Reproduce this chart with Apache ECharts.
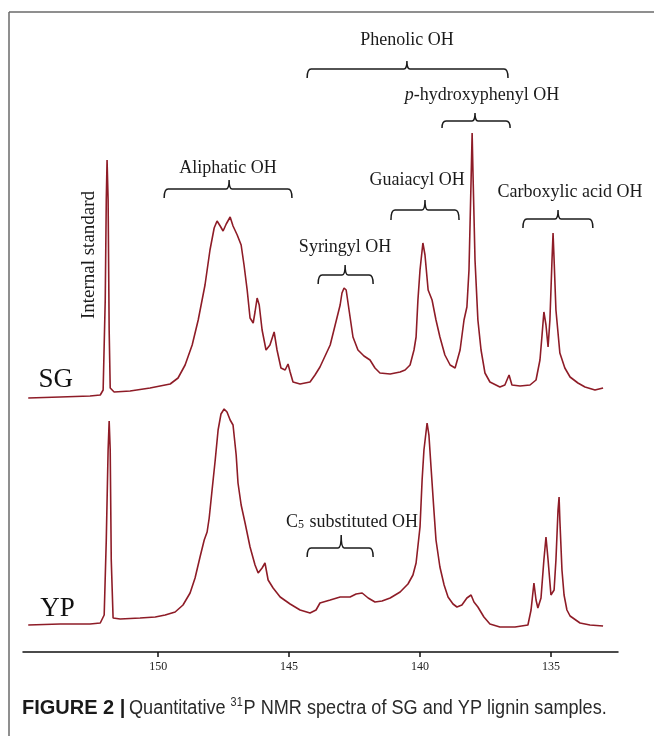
<!DOCTYPE html>
<html><head><meta charset="utf-8">
<script src="https://cdn.jsdelivr.net/npm/echarts@6/dist/echarts.min.js"></script>
<style>html,body{margin:0;padding:0;background:#fff}#c{width:654px;height:736px}</style>
</head><body><div id="c"></div>
<script>
// ---- data: [chemical shift (ppm), relative intensity above baseline] ----
const sgSpectrum = [[154.96,0],[153.74,1],[152.60,2],[152.21,3],[152.10,8],[152.02,98],[151.98,198],[151.95,238],[151.91,198],[151.87,68],[151.83,10],[151.68,6],[151.07,7],[150.31,10],[149.54,14],[149.24,20],[148.97,33],[148.70,53],[148.47,78],[148.21,113],[148.02,148],[147.86,170],[147.75,177],[147.63,172],[147.52,167],[147.40,174],[147.25,181],[147.14,172],[146.98,163],[146.83,153],[146.72,133],[146.60,108],[146.49,80],[146.37,75],[146.30,86],[146.22,100],[146.14,93],[146.03,68],[145.88,48],[145.73,53],[145.57,66],[145.46,48],[145.31,30],[145.15,28],[145.04,34],[144.96,26],[144.85,16],[144.58,14],[144.20,16],[144.01,23],[143.82,31],[143.43,53],[143.24,73],[143.05,93],[142.98,105],[142.90,110],[142.82,108],[142.71,88],[142.56,61],[142.37,48],[142.14,42],[141.91,38],[141.72,30],[141.53,25],[141.14,24],[140.76,26],[140.57,28],[140.38,33],[140.23,48],[140.15,61],[140.08,98],[140.00,128],[139.89,155],[139.81,143],[139.69,108],[139.54,98],[139.39,78],[139.24,61],[139.05,43],[138.85,33],[138.66,30],[138.47,48],[138.32,78],[138.21,91],[138.13,128],[138.05,218],[138.01,265],[137.98,228],[137.90,138],[137.79,78],[137.67,48],[137.52,25],[137.33,16],[136.95,11],[136.76,13],[136.60,23],[136.49,13],[136.18,12],[135.80,13],[135.57,18],[135.42,38],[135.34,63],[135.27,86],[135.19,73],[135.11,51],[135.04,78],[134.96,138],[134.92,165],[134.88,138],[134.81,88],[134.66,45],[134.47,30],[134.27,21],[133.97,15],[133.70,11],[133.32,8],[133.01,10]];
const ypSpectrum = [[154.96,0],[153.74,1],[152.60,1],[152.21,2],[152.06,10],[151.98,85],[151.91,175],[151.87,204],[151.83,175],[151.79,65],[151.72,7],[151.45,6],[150.69,7],[150.11,8],[149.73,10],[149.35,13],[149.05,20],[148.78,32],[148.59,47],[148.40,68],[148.24,85],[148.13,93],[148.05,107],[147.94,135],[147.82,165],[147.71,195],[147.60,211],[147.48,216],[147.37,213],[147.25,205],[147.14,200],[147.02,170],[146.95,142],[146.83,120],[146.68,102],[146.49,78],[146.30,60],[146.18,52],[146.03,57],[145.92,62],[145.80,45],[145.61,37],[145.34,28],[144.96,21],[144.58,15],[144.20,12],[143.97,15],[143.82,22],[143.43,25],[143.05,28],[142.67,28],[142.44,31],[142.21,32],[141.98,27],[141.72,23],[141.45,24],[141.14,27],[140.76,33],[140.46,41],[140.27,50],[140.15,62],[140.00,98],[139.92,145],[139.85,175],[139.73,202],[139.66,190],[139.58,158],[139.47,115],[139.39,85],[139.24,58],[139.08,40],[138.93,28],[138.74,21],[138.59,18],[138.40,20],[138.21,27],[138.05,30],[137.94,23],[137.79,18],[137.56,8],[137.33,1],[136.95,-2],[136.37,-2],[135.88,0],[135.76,15],[135.65,42],[135.57,25],[135.50,17],[135.38,27],[135.27,65],[135.19,88],[135.11,65],[135.00,30],[134.88,35],[134.81,65],[134.73,115],[134.69,128],[134.66,105],[134.58,55],[134.50,30],[134.39,15],[134.27,9],[133.89,2],[133.51,0],[133.01,-1]];
const tickValues = [135, 140, 145, 150];
const sampleNames = ['SG', 'YP'];
const regionNames = ['Phenolic OH', 'p-hydroxyphenyl OH', 'Aliphatic OH', 'Syringyl OH', 'Guaiacyl OH', 'Carboxylic acid OH', 'C5 substituted OH'];
const standardName = 'Internal standard';
const captionBold = 'FIGURE 2 |';
const captionText = ['Quantitative ', '31', 'P NMR spectra of SG and YP lignin samples.'];

// ---- layout (positions in axis units) ----
const xRange = {min: 132.44, max: 155.16};
const offsets = {SG: 254, YP: 27};
// [from ppm, to ppm, tip ppm, level, rise px, drop px, label ppm, label level]
const bracketLayout = [
  [144.31, 136.64, 140.50, 583, 8, 9, 140.50, 612],
  [139.16, 136.56, 137.90, 531, 8, 7, 137.63, 557],
  [149.77, 144.89, 147.29, 463, 9, 9, 147.33, 484],
  [143.89, 141.79, 142.86, 377, 10, 9, 142.86, 405],
  [141.11, 138.51, 139.81, 442, 10, 10, 140.11, 472],
  [136.07, 133.40, 134.73, 433, 9, 9, 134.27, 460],
  [144.31, 141.79, 143.01, 104, 13, 9, 142.60, 130]
];
const sampleLabelPos = [[153.91, 272], [153.84, 43]];
const standardLabelPos = [152.63, 397];

const serif = '"Liberation Serif","Times New Roman","DejaVu Serif",serif';
const sans = '"Liberation Sans",Arial,sans-serif';
const ink = '#1b1b1b';
const trace = '#8e1c27';

function labelText(i) {
  if (i === 1) return '{i|p}{n|-hydroxyphenyl OH}';
  if (i === 6) return '{n|C}{s|5}{n| substituted OH}';
  return '{n|' + regionNames[i] + '}';
}
const richStyles = {
  n: {fontSize: 18, fontFamily: serif, fill: ink},
  i: {fontSize: 18, fontFamily: serif, fontStyle: 'italic', fill: ink},
  s: {fontSize: 12, fontFamily: serif, fill: ink, verticalAlign: 'bottom', padding: [6, 1, 0, 0]}
};

const chart = echarts.init(document.getElementById('c'), null, {renderer: 'canvas'});
chart.setOption({
  animation: false,
  backgroundColor: '#fff',
  grid: {left: 23, right: 36, top: 52, bottom: 84},
  xAxis: {
    type: 'value', inverse: true, min: xRange.min, max: xRange.max,
    axisLine: {onZero: false, lineStyle: {color: '#111', width: 1.5}},
    axisTick: {show: true, customValues: tickValues, length: 5, lineStyle: {color: '#111', width: 1.5}},
    axisLabel: {customValues: tickValues, margin: 9, fontFamily: serif, fontSize: 12, color: '#222'},
    splitLine: {show: false}
  },
  yAxis: {type: 'value', min: 0, max: 600, show: false},
  series: [
    {type: 'line', name: 'SG', showSymbol: false, symbol: 'none',
     data: sgSpectrum.map(d => [d[0], d[1] + offsets.SG]),
     lineStyle: {color: trace, width: 1.6}, z: 3},
    {type: 'line', name: 'YP', showSymbol: false, symbol: 'none',
     data: ypSpectrum.map(d => [d[0], d[1] + offsets.YP]),
     lineStyle: {color: trace, width: 1.6}, z: 3},
    {type: 'custom', name: 'brackets', coordinateSystem: 'cartesian2d',
     data: bracketLayout.map(b => [b[2], b[3]]),
     renderItem: function (params, api) {
       const b = bracketLayout[params.dataIndex];
       const p1 = api.coord([b[0], b[3]]);
       const p2 = api.coord([b[1], b[3]]);
       const pt = api.coord([b[2], b[3]]);
       const pl = api.coord([b[6], b[7]]);
       const y = p1[1], r = b[4], d = b[5];
       const path = 'M' + p1[0] + ',' + (y + d) + ' Q' + p1[0] + ',' + y + ' ' + (p1[0] + 4) + ',' + y +
         ' L' + (pt[0] - 3) + ',' + y + ' Q' + pt[0] + ',' + y + ' ' + pt[0] + ',' + (y - r) +
         ' Q' + pt[0] + ',' + y + ' ' + (pt[0] + 3) + ',' + y +
         ' L' + (p2[0] - 4) + ',' + y + ' Q' + p2[0] + ',' + y + ' ' + p2[0] + ',' + (y + d);
       return {type: 'group', children: [
         {type: 'path', shape: {pathData: path}, style: {stroke: ink, lineWidth: 1.5, fill: null}},
         {type: 'text', x: pl[0], y: pl[1], style: {text: labelText(params.dataIndex), rich: richStyles, align: 'center', verticalAlign: 'middle'}}
       ]};
     }, z: 4},
    {type: 'custom', name: 'labels', coordinateSystem: 'cartesian2d',
     data: sampleLabelPos.concat([standardLabelPos]),
     renderItem: function (params, api) {
       const p = api.coord([api.value(0), api.value(1)]);
       if (params.dataIndex < 2) {
         return {type: 'text', x: p[0], y: p[1], style: {text: sampleNames[params.dataIndex], font: '27px ' + serif, fill: '#111', align: 'center', verticalAlign: 'middle'}};
       }
       return {type: 'text', x: p[0], y: p[1], rotation: Math.PI / 2,
         style: {text: standardName, font: '19px ' + serif, fill: ink, align: 'center', verticalAlign: 'middle'}};
     }, z: 4}
  ],
  graphic: [
    {type: 'line', shape: {x1: 9, y1: 12, x2: 654, y2: 12}, style: {stroke: '#6a6a6a', lineWidth: 1.5}},
    {type: 'line', shape: {x1: 9, y1: 12, x2: 9, y2: 736}, style: {stroke: '#6a6a6a', lineWidth: 1.5}},
    {type: 'text', x: 22, y: 708, style: {
      text: captionBold, font: 'bold 20px ' + sans, fill: '#1a1a1a', verticalAlign: 'middle'}},
    {type: 'text', x: 129, y: 708, scaleX: 0.905, originX: 0, originY: 0, style: {
      text: '{n|' + captionText[0] + '}{s|' + captionText[1] + '}{n|' + captionText[2] + '}',
      verticalAlign: 'middle',
      rich: {
        n: {fontFamily: sans, fontSize: 20, fill: '#2a2a2a'},
        s: {fontFamily: sans, fontSize: 12, fill: '#2a2a2a', verticalAlign: 'top', padding: [0, 1, 10, 0]}
      }
    }}
  ]
});
</script></body></html>
